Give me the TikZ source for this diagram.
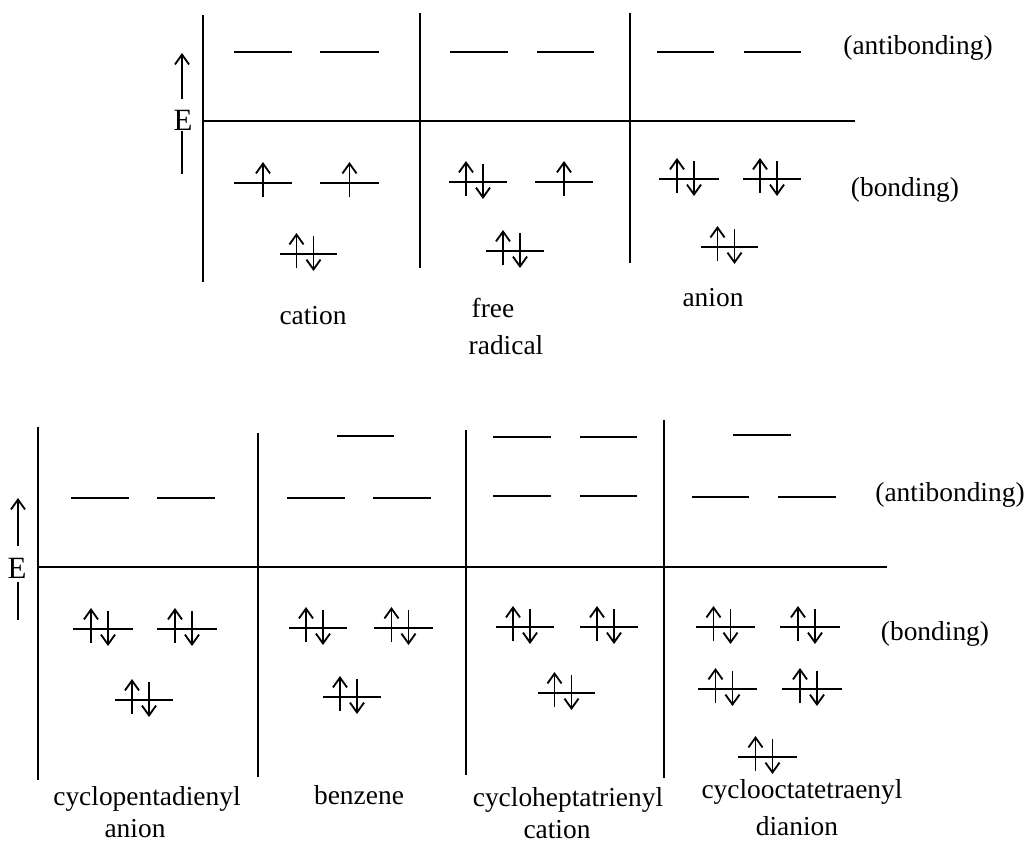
\documentclass[tikz,border=0pt]{standalone}
\usepackage{fontspec}
\setmainfont{Liberation Serif}
\usetikzlibrary{arrows.meta}

\tikzset{
  level/.style={line width=1.3pt},
  spin/.style={line width=1.3pt, -{Straight Barb[length=7pt,width=10pt]}},
  frame/.style={line width=1.5pt},
  lbl/.style={font=\fontsize{19.5}{22}\selectfont, inner sep=0pt},
  elbl/.style={font=\fontsize{22}{25}\selectfont, inner sep=0pt},
}

% x1, x2, y of one orbital
\newcommand{\orbital}[3]{\draw[level] ({#1},{#3}) -- ({#2},{#3});}
\newcommand{\upspin}[2]{\draw[spin] ({#1},{#2+14}) -- ({#1},{#2-21});}
\newcommand{\downspin}[2]{\draw[spin] ({#1},{#2-18}) -- ({#1},{#2+17});}
\newcommand{\single}[3]{\orbital{#1}{#2}{#3}\upspin{(#1+#2)/2}{#3}}
\newcommand{\paired}[3]{\orbital{#1}{#2}{#3}%
  \upspin{(#1+#2)/2-12}{#3}\downspin{(#1+#2)/2+5}{#3}}

\begin{document}
\begin{tikzpicture}[x=0.025cm, y=-0.025cm]
    \useasboundingbox (0,0) rectangle (1027,844);

    % top panel
    \draw [frame] (203,15) -- (203,282);
    \draw [frame] (420,13) -- (420,268);
    \draw [frame] (630,13) -- (630,263);
    \draw [frame] (203,121) -- (855,121);
    \node [elbl] (E1) at (183,120) {E};
    \draw [spin] (182,99) -- (182,53);
    \draw [frame] (182,131) -- (182,174);

    \orbital{234}{292}{52} \orbital{320}{379}{52}
    \orbital{450}{508}{52} \orbital{537}{594}{52}
    \orbital{657}{714}{52} \orbital{744}{801}{52}

    \single{234}{292}{183} \single{320}{379}{183}
    \paired{280}{337}{254}
    \paired{449}{507}{182} \single{535}{593}{182}
    \paired{486}{544}{251}
    \paired{659}{719}{179} \paired{743}{801}{179}
    \paired{701}{758}{247}

    \node [lbl] (anti1) at (918,48) {(antibonding)};
    \node [lbl] (bond1) at (905,190) {(bonding)};
    \node [lbl] (cation) at (313,316) {cation};
    \node [lbl] (free) at (493,308) {free};
    \node [lbl] (radical) at (506,345) {radical};
    \node [lbl] (anion) at (713,298) {anion};

    % bottom panel
    \draw [frame] (38,427) -- (38,780);
    \draw [frame] (258,433) -- (258,777);
    \draw [frame] (466,430) -- (466,775);
    \draw [frame] (664,420) -- (664,778);
    \draw [frame] (38,567) -- (887,567);
    \node [elbl] (E2) at (17,568) {E};
    \draw [spin] (18,546) -- (18,498);
    \draw [frame] (18,582) -- (18,620);

    \orbital{71}{129}{498} \orbital{157}{215}{498}
    \orbital{287}{345}{498} \orbital{373}{431}{498}
    \orbital{337}{394}{436}
    \orbital{493}{551}{496} \orbital{580}{637}{496}
    \orbital{493}{551}{437} \orbital{580}{637}{437}
    \orbital{733}{791}{435}
    \orbital{692}{749}{497} \orbital{778}{836}{497}

    \paired{73}{133}{629} \paired{157}{217}{629}
    \paired{115}{173}{700}
    \paired{289}{347}{628} \paired{374}{433}{628}
    \paired{323}{381}{697}
    \paired{496}{554}{627} \paired{580}{638}{627}
    \paired{538}{595}{693}
    \paired{696}{755}{627} \paired{780}{840}{627}
    \paired{698}{757}{689} \paired{782}{842}{689}
    \paired{738}{797}{757}

    \node [lbl] (anti2) at (950,495) {(antibonding)};
    \node [lbl] (bond2) at (935,634) {(bonding)};
    \node [lbl] (cp) at (147,799) {cyclopentadienyl};
    \node [lbl] (cpion) at (135,829) {anion};
    \node [lbl] (bz) at (359,795) {benzene};
    \node [lbl] (ch) at (568,800) {cycloheptatrienyl};
    \node [lbl] (chion) at (557,830) {cation};
    \node [lbl] (co) at (802,792) {cyclooctatetraenyl};
    \node [lbl] (coion) at (797,826) {dianion};
\end{tikzpicture}
\end{document}
